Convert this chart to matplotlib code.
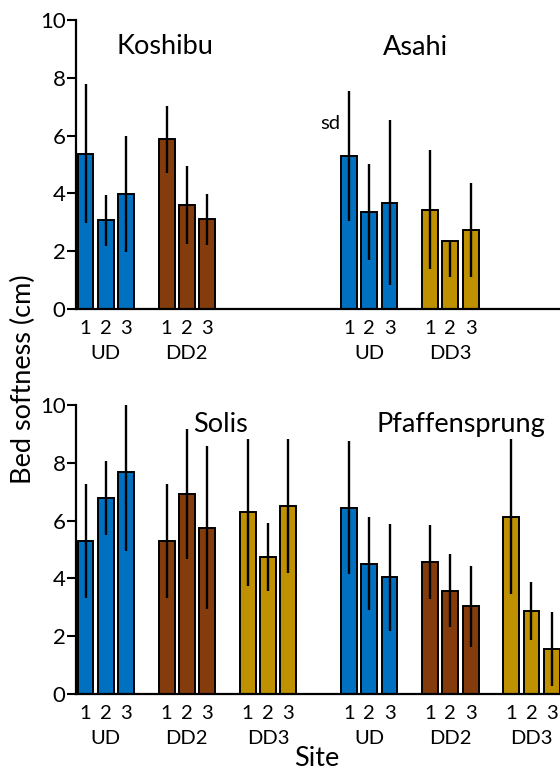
import matplotlib
matplotlib.use("Agg")
import matplotlib.pyplot as plt

plt.rcParams['font.family'] = ['Lato', 'DejaVu Sans']

# colours per treatment
colors = {"UD": "#0070C0", "DD2": "#843C0C", "DD3": "#BF9000"}
reach_labels = ["1", "2", "3"]

# top panel
koshibu_groups = ["UD", "DD2"]
koshibu_mean = [[5.38, 3.07, 3.97], [5.87, 3.60, 3.10]]
koshibu_sd = [[2.39, 0.89, 2.00], [1.17, 1.36, 0.88]]

asahi_groups = ["UD", "DD3"]
asahi_mean = [[5.30, 3.37, 3.68], [3.44, 2.37, 2.73]]
asahi_sd = [[2.25, 1.66, 2.86], [2.05, 1.26, 1.62]]
asahi_sd_up = [[2.25, 1.66, 2.86], [2.05, 0.0, 1.62]]

# bottom panel
solis_groups = ["UD", "DD2", "DD3"]
solis_mean = [[5.29, 6.78, 7.69], [5.29, 6.92, 5.76], [6.29, 4.74, 6.52]]
solis_sd = [[1.98, 1.27, 2.73], [1.98, 2.25, 2.83], [2.55, 1.17, 2.32]]

pfaff_groups = ["UD", "DD2", "DD3"]
pfaff_mean = [[6.45, 4.51, 4.04], [4.58, 3.58, 3.03], [6.14, 2.88, 1.57]]
pfaff_sd = [[2.31, 1.62, 1.85], [1.28, 1.27, 1.40], [2.67, 1.01, 1.28]]


def draw_site(ax, start, groups, means, sd_lo, sd_up):
    for g, name in enumerate(groups):
        xs = [start + 4 * g + i for i in range(3)]
        ax.bar(xs, means[g], width=0.78, color=colors[name],
               edgecolor="black", linewidth=1.4, zorder=2)
        ax.errorbar(xs, means[g], yerr=[sd_lo[g], sd_up[g]], fmt="none",
                    ecolor="black", elinewidth=1.7, capsize=0, zorder=3)
        for x, lab in zip(xs, reach_labels):
            ax.annotate(lab, xy=(x, 0), xycoords=("data", "axes fraction"),
                        xytext=(0, -25), textcoords="offset pixels",
                        ha="center", va="baseline", fontsize=14.5)
        ax.annotate(name, xy=(xs[1], 0), xycoords=("data", "axes fraction"),
                    xytext=(0, -50), textcoords="offset pixels",
                    ha="center", va="baseline", fontsize=14.5)


def style_axes(ax):
    ax.set_xlim(-0.47, 23.41)
    ax.set_ylim(0, 10)
    ax.set_yticks([0, 2, 4, 6, 8, 10])
    ax.set_xticks([])
    for s in ["top", "right"]:
        ax.spines[s].set_visible(False)
    for s in ["left", "bottom"]:
        ax.spines[s].set_linewidth(1.6)
    ax.tick_params(axis="y", length=6.5, width=1.5, labelsize=16, pad=1)


fig = plt.figure(figsize=(5.6, 7.71), dpi=100)
ax1 = fig.add_axes([76 / 560, 1 - 309 / 771, 1 - 76 / 560, 289 / 771])
ax2 = fig.add_axes([76 / 560, 1 - 694 / 771, 1 - 76 / 560, 289 / 771])
for ax in (ax1, ax2):
    style_axes(ax)

draw_site(ax1, 0, koshibu_groups, koshibu_mean, koshibu_sd, koshibu_sd)
draw_site(ax1, 13, asahi_groups, asahi_mean, asahi_sd, asahi_sd_up)
draw_site(ax2, 0, solis_groups, solis_mean, solis_sd, solis_sd)
draw_site(ax2, 13, pfaff_groups, pfaff_mean, pfaff_sd, pfaff_sd)

ax1.text(3.92, 8.81, "Koshibu", ha="center", va="baseline", fontsize=19.5)
ax1.text(16.26, 8.79, "Asahi", ha="center", va="baseline", fontsize=19.5)
ax1.text(12.06, 6.22, "sd", ha="center", va="baseline", fontsize=14.5)
ax2.text(6.68, 9.08, "Solis", ha="center", va="baseline", fontsize=19.5)
ax2.text(18.52, 9.08, "Pfaffensprung", ha="center", va="baseline",
         fontsize=19.5)

fig.text(23 / 560, 1 - 379 / 771, "Bed softness (cm)", rotation=90,
         ha="center", va="center", fontsize=19.5)
fig.text(317 / 560, 1 - 766 / 771, "Site", ha="center", va="baseline",
         fontsize=19.5)

fig.savefig("out.png", dpi=100)
